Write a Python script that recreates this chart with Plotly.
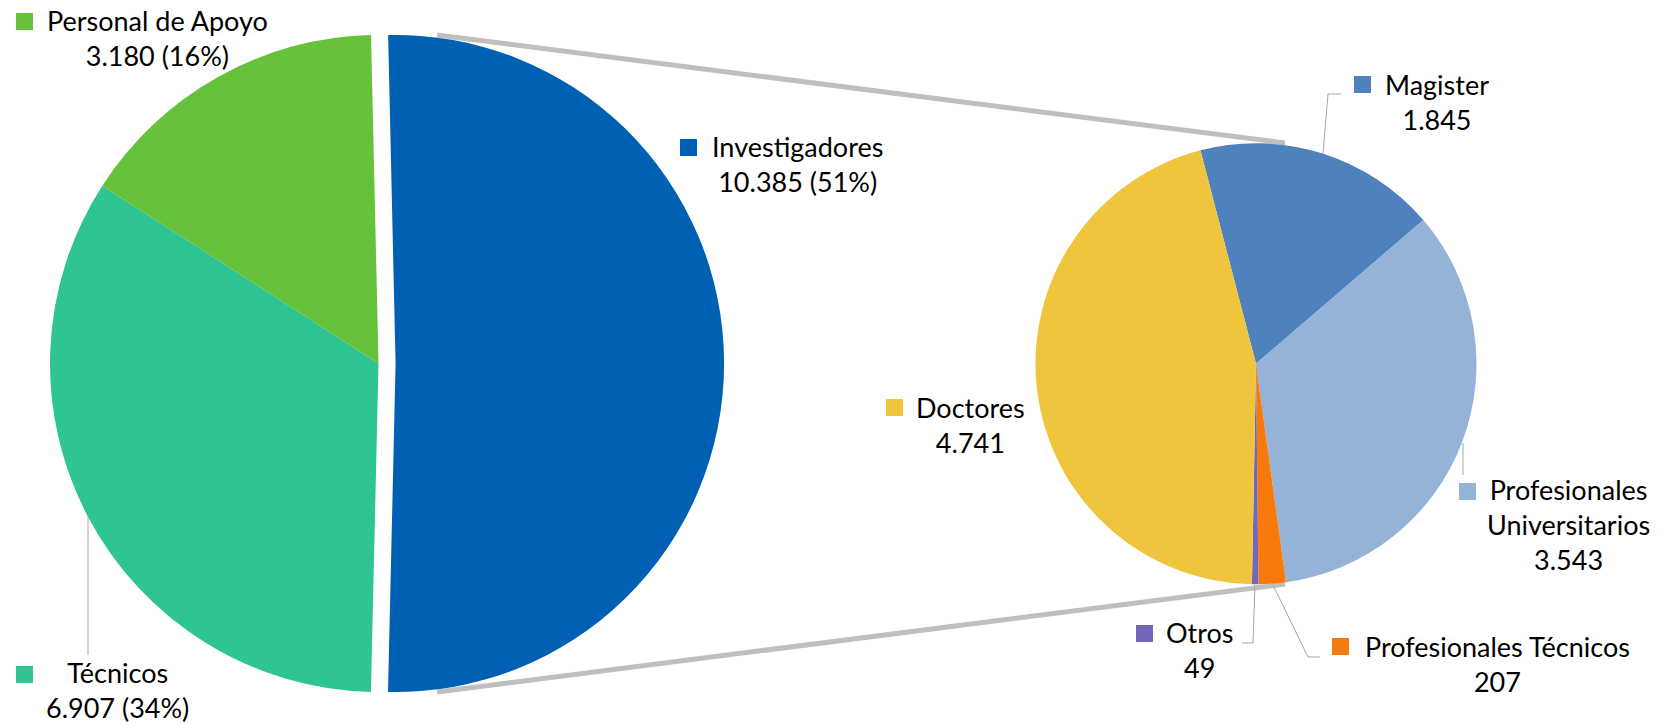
import plotly.graph_objects as go

# ---------------- data ----------------
main_labels = ["Investigadores", "Técnicos", "Personal de Apoyo"]
main_values = [10385, 6907, 3180]
main_colors = ["#0061B4", "#2EC593", "#66C23A"]

sub_labels = ["Magister", "Profesionales Universitarios", "Profesionales Técnicos", "Otros", "Doctores"]
sub_values = [1845, 3543, 207, 49, 4741]
sub_colors = ["#4F81BD", "#95B3D7", "#F97A0C", "#7367BC", "#EEC53D"]
wrapped = ["Profesionales Universitarios"]

# ---------------- helpers ----------------
W, H = 1662, 724
def px(x):
    return x / W
def py(y):
    return 1 - y / H

def fmt(v):
    return f"{v:,}".replace(",", ".")

FONT = dict(family="Lato, 'Open Sans', sans-serif", size=27, color="#000000")
GRAY_THICK = "#BFBFBF"
GRAY_THIN = "#A6A6A6"

# geometry (pixels)
L_CX, L_CY, L_R, L_PULL = 378.5, 363.5, 328.5, 0.052
R_CX, R_CY, R_R = 1256.0, 363.7, 220.5

fig = go.Figure()

lhalf = L_R * (1 + L_PULL)
fig.add_trace(go.Pie(
    labels=main_labels, values=main_values, sort=False, direction="clockwise",
    rotation=-1.3, pull=[L_PULL, 0, 0],
    marker=dict(colors=main_colors, line=dict(width=0)),
    textinfo="none", showlegend=False,
    domain=dict(x=[px(L_CX - lhalf), px(L_CX + lhalf)],
                y=[py(L_CY + lhalf), py(L_CY - lhalf)]),
))
fig.add_trace(go.Pie(
    labels=sub_labels, values=sub_values, sort=False, direction="clockwise",
    rotation=-14.6,
    marker=dict(colors=sub_colors, line=dict(width=0)),
    textinfo="none", showlegend=False,
    domain=dict(x=[px(R_CX - R_R), px(R_CX + R_R)],
                y=[py(R_CY + R_R), py(R_CY - R_R)]),
))

shapes = []
# connector lines between pies
for (x0, y0, x1, y1) in [(437, 35, 1285, 143), (437, 692, 1285, 584)]:
    shapes.append(dict(type="line", xref="paper", yref="paper", layer="below",
                       x0=px(x0), y0=py(y0), x1=px(x1), y1=py(y1),
                       line=dict(color=GRAY_THICK, width=5)))

# leader lines
leaders = [
    [(88, 516), (88, 655)],
    [(1341, 94), (1328, 94), (1323, 153)],
    [(1463, 443), (1463, 475)],
    [(1242, 643), (1253, 643), (1255, 585)],
    [(1273, 585), (1308, 657), (1320, 657)],
]
for pts in leaders:
    path = "M " + " L ".join(f"{px(x):.5f},{py(y):.5f}" for x, y in pts)
    shapes.append(dict(type="path", xref="paper", yref="paper", path=path,
                       line=dict(color=GRAY_THIN, width=1)))

# label placements: text-block centre (x, y) and legend-key square top-left
main_pos = {
    "Investigadores": ((797, 165), (680, 139)),
    "Técnicos": ((117, 691), (16, 666)),
    "Personal de Apoyo": ((157, 39.5), (16, 13)),
}
sub_pos = {
    "Magister": ((1437, 103), (1354, 76)),
    "Profesionales Universitarios": ((1568, 525), (1459, 483)),
    "Profesionales Técnicos": ((1497, 665), (1332, 638)),
    "Otros": ((1200, 650.5), (1136, 625)),
    "Doctores": ((970, 426), (886, 399)),
}
TEXT_DY = -1  # small vertical correction for the substitute font

annotations = []
total_main = sum(main_values)
for lab, val, col in zip(main_labels, main_values, main_colors):
    (tx, ty), (sx, sy) = main_pos[lab]
    pct = round(val / total_main * 100)
    annotations.append(dict(x=px(tx), y=py(ty + TEXT_DY), xref="paper", yref="paper",
                            text=f"{lab}<br>{fmt(val)} ({pct}%)", showarrow=False,
                            xanchor="center", yanchor="middle", align="center", font=FONT))
    shapes.append(dict(type="rect", xref="paper", yref="paper",
                       x0=px(sx), y0=py(sy), x1=px(sx + 17), y1=py(sy + 17),
                       fillcolor=col, line=dict(width=0)))

for lab, val, col in zip(sub_labels, sub_values, sub_colors):
    (tx, ty), (sx, sy) = sub_pos[lab]
    shown = lab.replace(" ", "<br>") if lab in wrapped else lab
    annotations.append(dict(x=px(tx), y=py(ty + TEXT_DY), xref="paper", yref="paper",
                            text=f"{shown}<br>{fmt(val)}", showarrow=False,
                            xanchor="center", yanchor="middle", align="center", font=FONT))
    shapes.append(dict(type="rect", xref="paper", yref="paper",
                       x0=px(sx), y0=py(sy), x1=px(sx + 17), y1=py(sy + 17),
                       fillcolor=col, line=dict(width=0)))

fig.update_layout(
    width=W, height=H,
    margin=dict(l=0, r=0, t=0, b=0),
    paper_bgcolor="white", plot_bgcolor="white",
    shapes=shapes, annotations=annotations,
    showlegend=False,
)

fig.write_html("out.html",
               config={"displayModeBar": False},
               post_script="document.body.style.margin='0';document.body.style.overflow='hidden';")
